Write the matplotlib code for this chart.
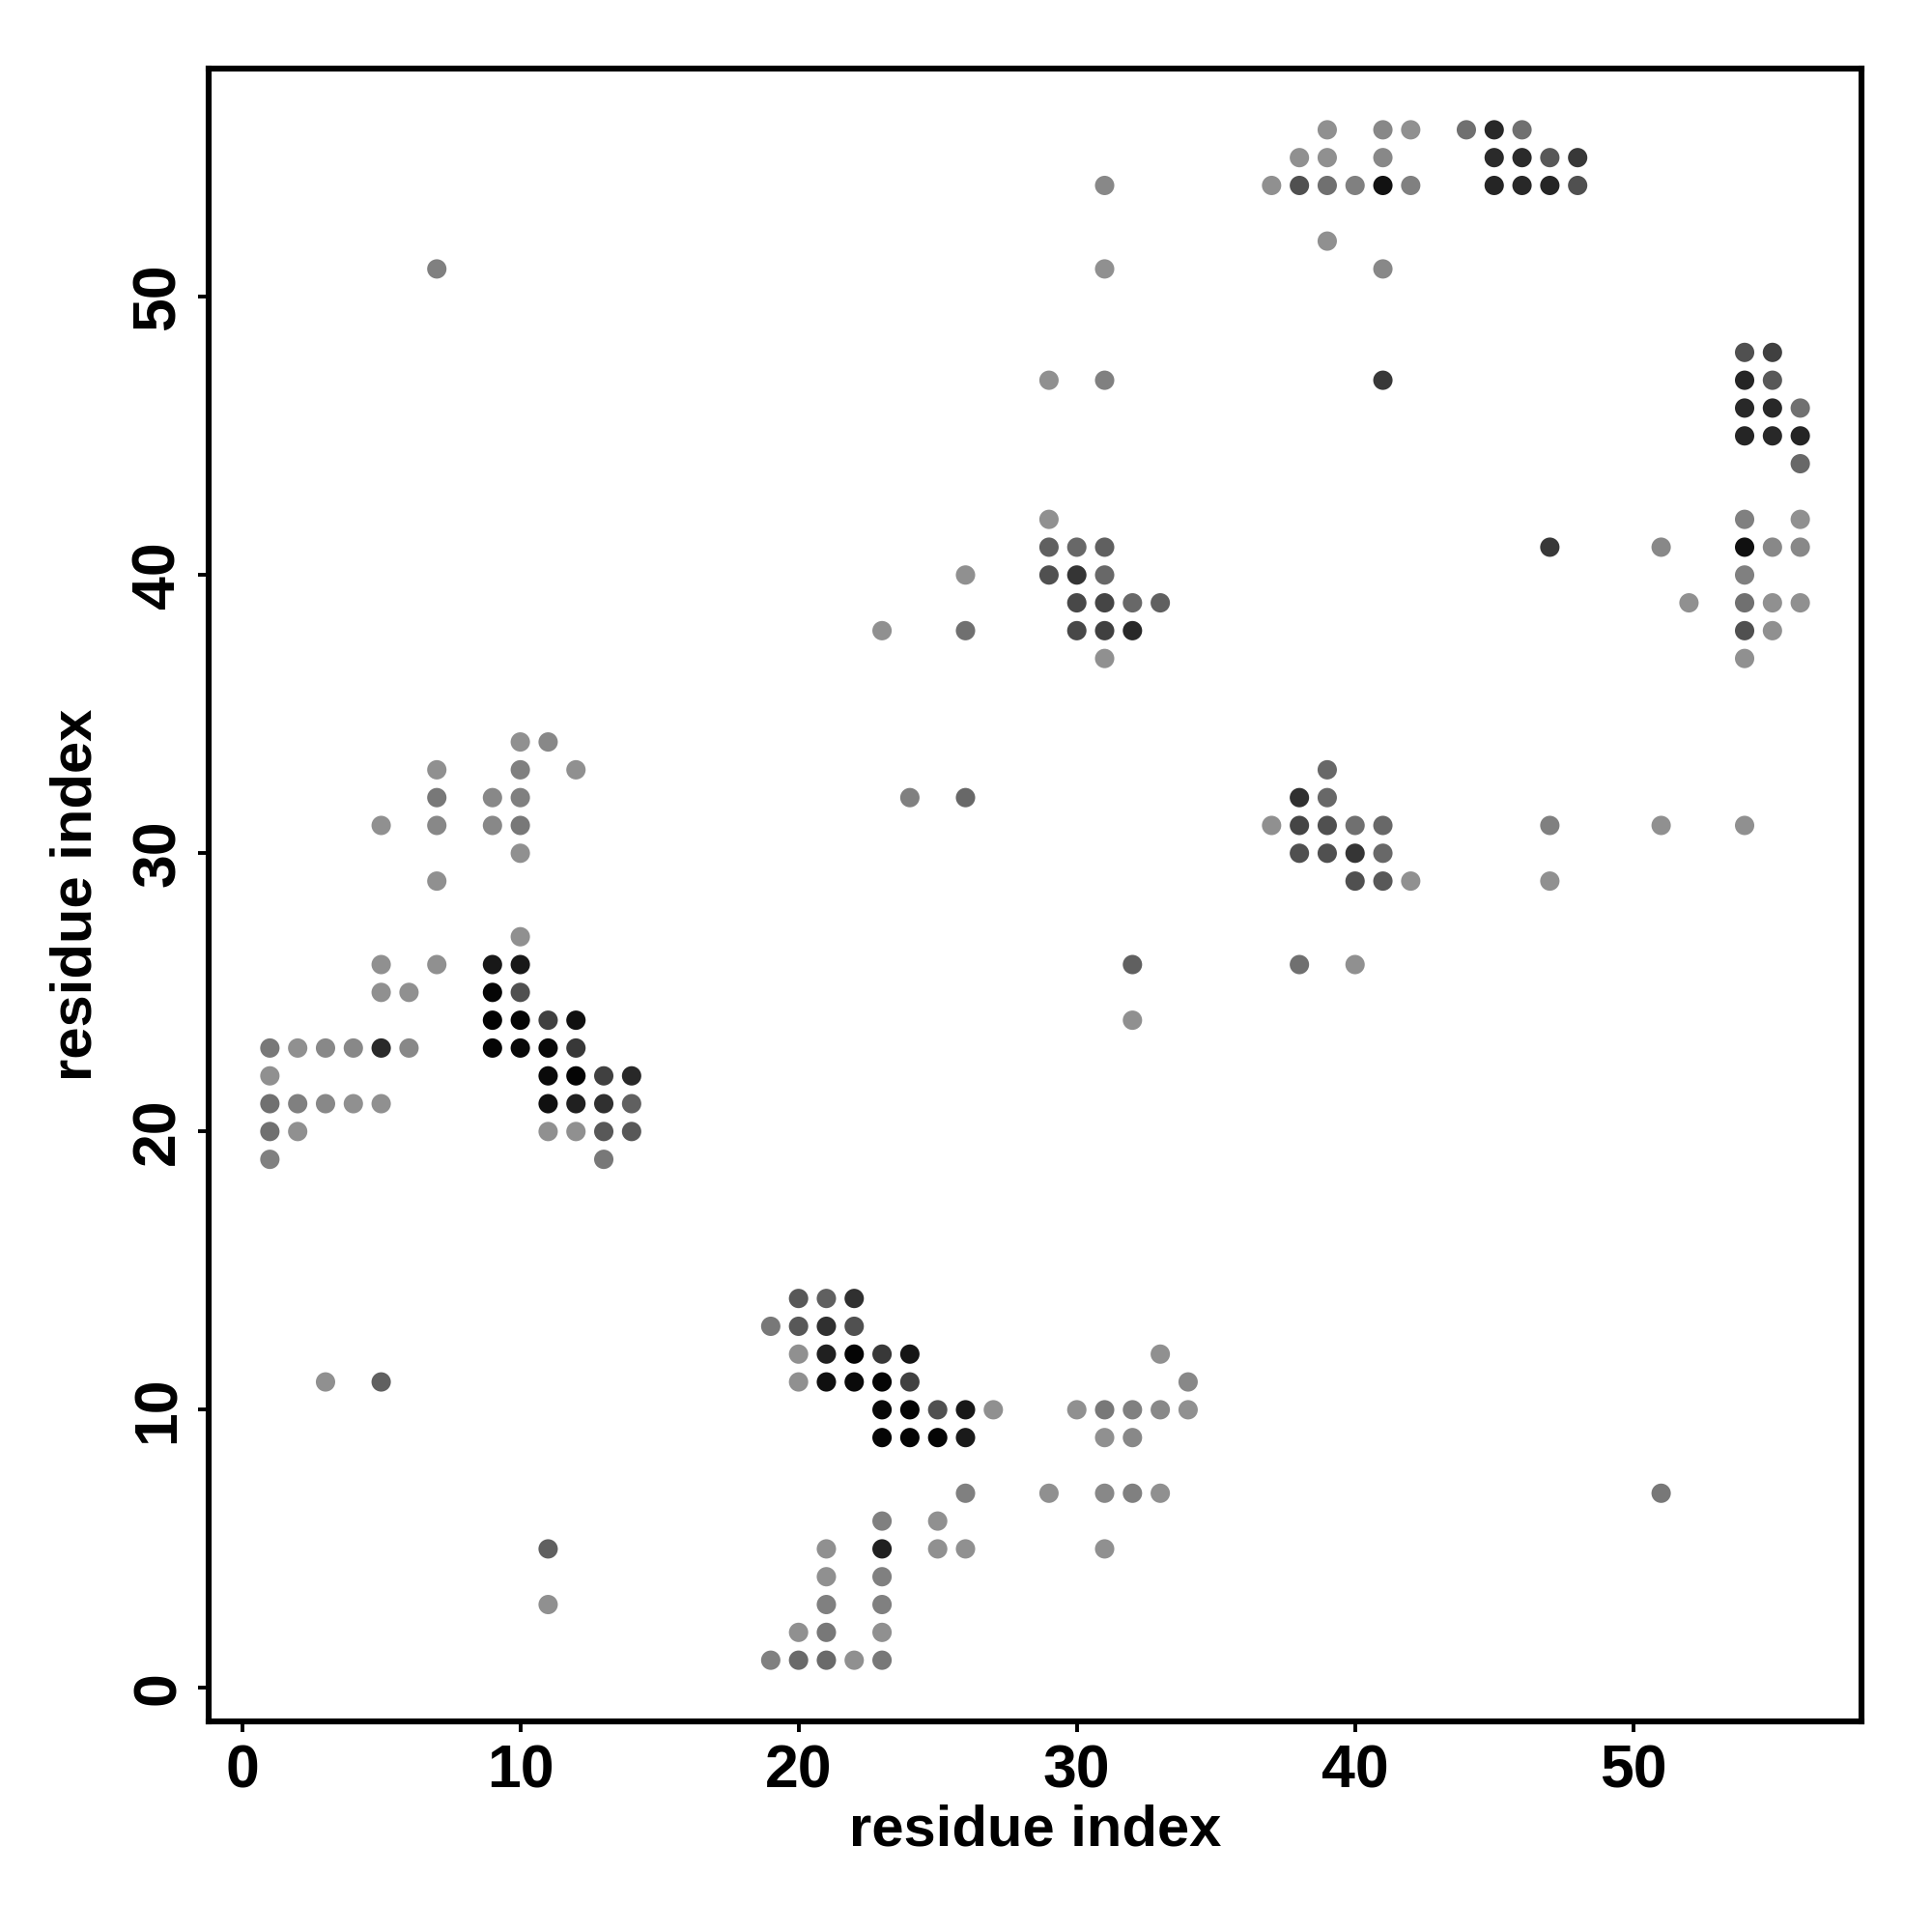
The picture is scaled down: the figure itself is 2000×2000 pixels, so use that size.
import numpy as np
import matplotlib
matplotlib.use("Agg")
import matplotlib.pyplot as plt

plt.rcParams['font.family'] = ['Liberation Sans', 'DejaVu Sans']

# contact map: residue pairs (i, j) and grey level of each dot (0 = black, 255 = white)
res_i = [19, 20, 21, 22, 23,  20, 21, 23,  11, 21, 23,  21, 23,
         11, 21, 23, 25, 26, 31,  23, 25,
         26, 29, 31, 32, 33, 51,
         23, 24, 25, 26, 31, 32,
         23, 24, 25, 26, 27, 30, 31, 32, 33, 34,
         3, 5, 20, 21, 22, 23, 24, 34,
         20, 21, 22, 23, 24, 33,
         19, 20, 21, 22,  20, 21, 22,
         1, 13,
         1, 2, 11, 12, 13, 14,
         1, 2, 3, 4, 5, 11, 12, 13, 14,
         1, 11, 12, 13, 14,
         1, 2, 3, 4, 5, 6, 9, 10, 11, 12,
         9, 10, 11, 12, 32,
         5, 6, 9, 10,
         5, 7, 9, 10, 32, 38, 40,
         10,
         7, 40, 41, 42, 47,
         10, 38, 39, 40, 41,
         5, 7, 9, 10, 37, 38, 39, 40, 41, 47, 51, 54,
         7, 9, 10, 24, 26, 38, 39,
         7, 10, 12, 39,
         10, 11,
         31, 54,
         23, 26, 30, 31, 32, 54, 55,
         30, 31, 32, 33, 52, 54, 55, 56,
         26, 29, 30, 31, 54,
         29, 30, 31, 47, 51, 54, 55, 56,
         29, 54, 56,
         56,
         54, 55, 56,
         54, 55, 56,
         29, 31, 41, 54, 55,
         54, 55,
         7, 31, 41,
         39,
         31, 37, 38, 39, 40, 41, 42, 45, 46, 47, 48,
         38, 39, 41, 45, 46, 47, 48,
         39, 41, 42, 44, 45, 46]

res_j = [1, 1, 1, 1, 1,  2, 2, 2,  3, 3, 3,  4, 4,
         5, 5, 5, 5, 5, 5,  6, 6,
         7, 7, 7, 7, 7, 7,
         9, 9, 9, 9, 9, 9,
         10, 10, 10, 10, 10, 10, 10, 10, 10, 10,
         11, 11, 11, 11, 11, 11, 11, 11,
         12, 12, 12, 12, 12, 12,
         13, 13, 13, 13,  14, 14, 14,
         19, 19,
         20, 20, 20, 20, 20, 20,
         21, 21, 21, 21, 21, 21, 21, 21, 21,
         22, 22, 22, 22, 22,
         23, 23, 23, 23, 23, 23, 23, 23, 23, 23,
         24, 24, 24, 24, 24,
         25, 25, 25, 25,
         26, 26, 26, 26, 26, 26, 26,
         27,
         29, 29, 29, 29, 29,
         30, 30, 30, 30, 30,
         31, 31, 31, 31, 31, 31, 31, 31, 31, 31, 31, 31,
         32, 32, 32, 32, 32, 32, 32,
         33, 33, 33, 33,
         34, 34,
         37, 37,
         38, 38, 38, 38, 38, 38, 38,
         39, 39, 39, 39, 39, 39, 39, 39,
         40, 40, 40, 40, 40,
         41, 41, 41, 41, 41, 41, 41, 41,
         42, 42, 42,
         44,
         45, 45, 45,
         46, 46, 46,
         47, 47, 47, 47, 47,
         48, 48,
         51, 51, 51,
         52,
         54, 54, 54, 54, 54, 54, 54, 54, 54, 54, 54,
         55, 55, 55, 55, 55, 55, 55,
         56, 56, 56, 56, 56, 56]

grey = [0x80, 0x6a, 0x6a, 0x90, 0x78,  0x90, 0x78, 0x90,  0x90, 0x80, 0x80,  0x90, 0x80,
        0x60, 0x90, 0x20, 0x90, 0x90, 0x90,  0x80, 0x90,
        0x80, 0x90, 0x88, 0x80, 0x90, 0x78,
        0x05, 0x05, 0x05, 0x1a, 0x90, 0x88,
        0x08, 0x05, 0x50, 0x18, 0x90, 0x90, 0x78, 0x80, 0x88, 0x90,
        0x90, 0x60, 0x90, 0x10, 0x0a, 0x05, 0x40, 0x88,
        0x90, 0x20, 0x05, 0x38, 0x15, 0x90,
        0x78, 0x58, 0x30, 0x50,  0x58, 0x60, 0x30,
        0x80, 0x78,
        0x70, 0x90, 0x90, 0x90, 0x58, 0x58,
        0x70, 0x80, 0x88, 0x90, 0x90, 0x10, 0x20, 0x30, 0x60,
        0x90, 0x0a, 0x05, 0x40, 0x28,
        0x78, 0x90, 0x88, 0x88, 0x2a, 0x88, 0x05, 0x08, 0x08, 0x38,
        0x02, 0x05, 0x40, 0x10, 0x90,
        0x90, 0x90, 0x05, 0x50,
        0x90, 0x90, 0x18, 0x18, 0x60, 0x70, 0x90,
        0x90,
        0x90, 0x50, 0x58, 0x90, 0x90,
        0x90, 0x50, 0x50, 0x35, 0x68,
        0x90, 0x88, 0x88, 0x78, 0x90, 0x45, 0x50, 0x70, 0x68, 0x80, 0x90, 0x90,
        0x78, 0x88, 0x80, 0x80, 0x68, 0x30, 0x68,
        0x90, 0x80, 0x90, 0x68,
        0x90, 0x88,
        0x90, 0x90,
        0x90, 0x70, 0x48, 0x40, 0x28, 0x50, 0x90,
        0x48, 0x45, 0x68, 0x60, 0x90, 0x70, 0x90, 0x90,
        0x90, 0x50, 0x35, 0x68, 0x80,
        0x60, 0x68, 0x60, 0x38, 0x88, 0x10, 0x88, 0x88,
        0x90, 0x80, 0x90,
        0x68,
        0x25, 0x28, 0x25,
        0x28, 0x28, 0x70,
        0x90, 0x80, 0x38, 0x25, 0x58,
        0x50, 0x40,
        0x80, 0x90, 0x88,
        0x90,
        0x88, 0x90, 0x50, 0x70, 0x80, 0x12, 0x80, 0x25, 0x28, 0x25, 0x50,
        0x90, 0x90, 0x88, 0x2a, 0x2a, 0x58, 0x38,
        0x90, 0x88, 0x90, 0x70, 0x28, 0x70]

cols = [(g / 255.0,) * 3 for g in grey]

fig = plt.figure(figsize=(10, 10), dpi=200)
ax = fig.add_axes([0.108, 0.109, 0.8555, 0.8555])
ax.scatter(res_i, res_j, s=52, c=cols, edgecolors='none')

ax.set_xlim(-1.2, 58.2)
ax.set_ylim(-1.2, 58.2)
ax.set_xticks(np.arange(0, 51, 10))
ax.set_yticks(np.arange(0, 51, 10))
ax.tick_params(length=4, width=1.4, labelsize=22.5, pad=4)
for lab in ax.get_xticklabels():
    lab.set_fontweight('bold')
for lab in ax.get_yticklabels():
    lab.set_fontweight('bold')
    lab.set_rotation(90)
    lab.set_va('center')
for sp in ax.spines.values():
    sp.set_linewidth(2.2)

ax.set_xlabel('residue index', fontsize=21.5, fontweight='bold', labelpad=1.5)
ax.set_ylabel('residue index', fontsize=21.5, fontweight='bold', labelpad=10)

fig.savefig('out.png', dpi=200, facecolor='white')
